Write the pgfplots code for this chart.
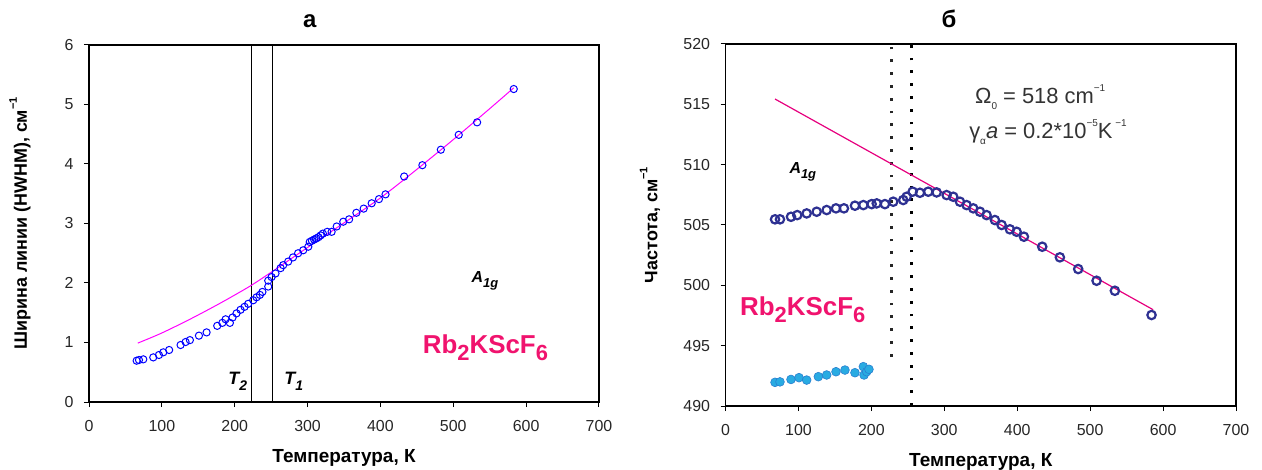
\documentclass[border=0pt]{standalone}
\usepackage{fontspec}
\setmainfont{Liberation Sans}
\usepackage{pgfplots}
\usepackage{pgfplotstable}
\pgfplotsset{compat=1.18}
\definecolor{ptblue}{HTML}{0000FF}
\definecolor{fitmag}{HTML}{FF00FF}
\definecolor{navy}{HTML}{2E3192}
\definecolor{lblue}{HTML}{29ABE2}
\definecolor{lbedge}{HTML}{2A7FD0}
\definecolor{fitpink}{HTML}{E6007E}
\definecolor{rbpink}{HTML}{F0136E}
\definecolor{ticktext}{HTML}{262626}
\newcommand{\mysub}[2]{\raisebox{-0.3em}{\fontsize{#1}{#1}\selectfont #2}}
\newcommand{\mysup}[2]{\raisebox{0.55em}{\fontsize{#1}{#1}\selectfont #2}}

\pgfplotstableread{
T w
65.4 0.694
68.6 0.706
74.5 0.717
88.2 0.75
96 0.79
102 0.835
110 0.874
125.7 0.958
132.6 1.008
138.5 1.04
150.9 1.115
161.4 1.17
176 1.28
183 1.33
187.5 1.39
193.4 1.33
197 1.42
202.5 1.49
208 1.55
213.5 1.60
218.5 1.65
225.4 1.71
230 1.76
234.6 1.80
238 1.85
246 1.94
246 2.04
250.6 2.10
256 2.16
263 2.25
266.5 2.30
273.4 2.36
280 2.43
287 2.50
294 2.55
301 2.61
303 2.69
306 2.71
309 2.73
312 2.75
315 2.77
318 2.80
321 2.83
327 2.86
333 2.86
340 2.95
349 3.03
357 3.07
367 3.18
377 3.25
388 3.34
398 3.41
407 3.49
432.6 3.79
457.6 3.98
482.9 4.24
507.5 4.49
532.7 4.70
583 5.26
}\widthdata

\pgfplotstableread{
T w
67 0.99
100 1.16
140 1.40
180 1.66
220 1.94
250 2.18
280 2.43
310 2.68
350 3.01
400 3.43
450 3.91
500 4.41
550 4.93
583 5.28
}\widthfit

\pgfplotstableread{
T f
67.9 505.47
74.7 505.47
89.8 505.68
98.4 505.82
111.3 505.96
125 506.10
138.7 506.24
151.5 506.38
162.4 506.38
177.5 506.60
189 506.65
200.4 506.73
207.3 506.79
218.6 506.73
230 506.93
243.7 507.07
248.4 507.34
256.6 507.76
266.6 507.67
278 507.76
289.5 507.70
303.2 507.48
312.3 507.34
321.5 506.93
330.6 506.65
339.7 506.38
348.9 506.10
358 505.82
369.4 505.41
378.6 505.00
390 504.64
399.2 504.44
409.2 504.03
434.3 503.20
458.5 502.32
483.6 501.35
508.8 500.38
533.9 499.55
584.2 497.54
}\freqA

\pgfplotstableread{
T f
67.9 491.96
74.7 492.00
89.8 492.20
100.8 492.35
111.3 492.15
127.3 492.43
138.7 492.57
151.5 492.84
163.8 492.98
177.5 492.76
189 493.26
190 492.57
193.6 492.84
196.7 493.04
}\freqB

\pgfplotstableread{
T f
67.9 515.44
586.4 497.98
}\freqfit

\pgfplotsset{
  panel/.style={
    scale only axis,
    xmin=0, xmax=700,
    xtick={0,100,...,700},
    tick align=outside,
    xtick pos=left, ytick pos=left,
    axis line style={line width=1.1bp, black},
    major tick length=5bp,
    tick style={line width=1bp, black},
    tick label style={font=\fontsize{16}{19}\selectfont, text=ticktext},
    xticklabel style={yshift=-10bp},
    yticklabel style={xshift=-7bp},
    /pgf/number format/assume math mode=true,
    xlabel style={font=\bfseries\fontsize{19}{22}\selectfont, at={(axis description cs:0.5,0)}, anchor=center, yshift=-55.5bp},
    ylabel style={font=\bfseries\fontsize{18}{21}\selectfont},
    title style={font=\bfseries\fontsize{24}{28}\selectfont},
    clip=false,
  }
}

\begin{document}
\begin{tikzpicture}
\useasboundingbox (0,0) rectangle (1262bp,470bp);

% ---------- panel a ----------
\begin{axis}[panel,
  at={(89bp,68bp)}, anchor=south west,
  width=510bp, height=357bp,
  ymin=0, ymax=6, ytick={0,1,...,6},
  xlabel={Температура, К},
  ylabel={Ширина линии (HWHM), см\mysup{11}{−1}},
  ylabel style={at={(axis description cs:-0.1353,0.5)}, anchor=center},
  title={а},
  title style={at={(axis description cs:0.433,1)}, anchor=base, yshift=12bp},
]
\addplot[black, line width=0.8bp] coordinates {(222.6,0) (222.6,6)};
\addplot[black, line width=0.8bp] coordinates {(251.4,0) (251.4,6)};
\addplot[fitmag, line width=1bp, smooth] table[x=T,y=w] {\widthfit};
\addplot[only marks, mark=o, mark size=3.6bp, ptblue, mark options={line width=1bp}] table[x=T,y=w] {\widthdata};
\node[anchor=base west, inner sep=0pt, font=\bfseries\itshape\fontsize{18}{20}\selectfont] at (axis cs:191,0.286) {T\mysub{14}{2}};
\node[anchor=base west, inner sep=0pt, font=\bfseries\itshape\fontsize{18}{20}\selectfont] at (axis cs:268,0.286) {T\mysub{14}{1}};
\node[anchor=base west, inner sep=0pt, font=\bfseries\itshape\fontsize{16}{18}\selectfont] at (axis cs:525,2.01) {A\mysub{13}{1g}};
\node[anchor=base west, inner sep=0pt, font=\bfseries\fontsize{26}{29}\selectfont, text=rbpink] at (axis cs:458,0.82) {Rb\mysub{22}{2}KScF\mysub{22}{6}};
\end{axis}

% ---------- panel b ----------
\begin{axis}[panel,
  at={(725.5bp,64bp)}, anchor=south west,
  width=510.5bp, height=362bp,
  ymin=490, ymax=520, ytick={490,495,...,520},
  xlabel={Температура, К},
  ylabel={Частота, см\mysup{11}{−1}},
  ylabel style={at={(axis description cs:-0.1479,0.5)}, anchor=center},
  title={б},
  title style={at={(axis description cs:0.438,1)}, anchor=base, yshift=11bp},
]
\addplot[black!85, line width=2.7bp, dash pattern=on 2.7bp off 10.1bp] coordinates {(227.3,494.1) (227.3,520)};
\addplot[black, line width=2.9bp, dash pattern=on 2.8bp off 10bp] coordinates {(255.6,490) (255.6,520)};
\addplot[only marks, mark=*, mark size=4.4bp, mark options={fill=lblue, draw=lbedge, line width=0.6bp}] table[x=T,y=f] {\freqB};
\addplot[only marks, mark=o, mark size=4.2bp, navy, mark options={line width=2.2bp}] table[x=T,y=f] {\freqA};
\addplot[fitpink, line width=1.2bp] table[x=T,y=f] {\freqfit};
\node[anchor=base west, inner sep=0pt, font=\fontsize{22}{24}\selectfont, text=black!80] at (axis cs:342,515.08) {Ω\mysub{10}{0} = 518 cm\mysup{10}{−1}};
\node[anchor=base west, inner sep=0pt, font=\fontsize{22}{24}\selectfont, text=black!80] at (axis cs:334,512.18) {γ\mysub{10}{α}\textit{a} = 0.2*10\mysup{10}{−5}K\mysup{10}{ −1}};
\node[anchor=base west, inner sep=0pt, font=\bfseries\itshape\fontsize{16}{18}\selectfont] at (axis cs:87.5,509.28) {A\mysub{13}{1g}};
\node[anchor=base west, inner sep=0pt, font=\bfseries\fontsize{26}{29}\selectfont, text=rbpink] at (axis cs:19.9,497.54) {Rb\mysub{22}{2}KScF\mysub{22}{6}};
\end{axis}
\end{tikzpicture}
\end{document}
